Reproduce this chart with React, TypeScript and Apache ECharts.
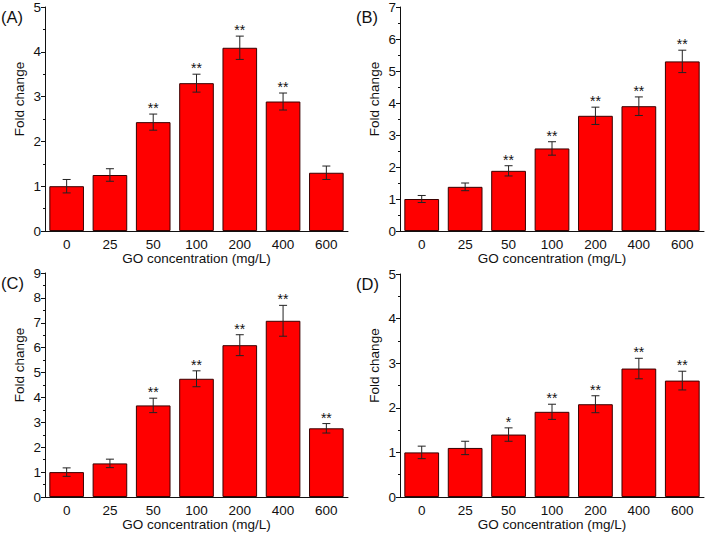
import React, { useEffect, useRef } from "react";
import * as echarts from "echarts";

const categories = ["0", "25", "50", "100", "200", "400", "600"];

const valuesA = [1.0, 1.25, 2.43, 3.3, 4.09, 2.89, 1.3];
const errorsA = [0.15, 0.14, 0.18, 0.2, 0.26, 0.19, 0.15];
const starsA = ["", "", "**", "**", "**", "**", ""];

const valuesB = [1.0, 1.38, 1.88, 2.58, 3.6, 3.9, 5.3];
const errorsB = [0.11, 0.12, 0.16, 0.21, 0.27, 0.29, 0.35];
const starsB = ["", "", "**", "**", "**", "**", "**"];

const valuesC = [1.0, 1.35, 3.68, 4.75, 6.1, 7.08, 2.76];
const errorsC = [0.17, 0.17, 0.29, 0.32, 0.42, 0.62, 0.19];
const starsC = ["", "", "**", "**", "**", "**", "**"];

const valuesD = [1.0, 1.1, 1.4, 1.91, 2.08, 2.88, 2.61];
const errorsD = [0.14, 0.15, 0.15, 0.17, 0.19, 0.23, 0.21];
const starsD = ["", "", "*", "**", "**", "**", "**"];

const yMaxes = [5, 7, 9, 5];
const panelLabels = ["(A)", "(B)", "(C)", "(D)"];
const xTitle = "GO concentration (mg/L)";
const yTitle = "Fold change";

const FONT = "'Liberation Sans', Arial, sans-serif";

export default function App() {
  const ref = useRef<HTMLDivElement>(null);
  useEffect(() => {
    if (!ref.current) return;
    const chart = echarts.init(ref.current, null, { renderer: "svg" });
    const panels = [
      { v: valuesA, e: errorsA, s: starsA },
      { v: valuesB, e: errorsB, s: starsB },
      { v: valuesC, e: errorsC, s: starsC },
      { v: valuesD, e: errorsD, s: starsD },
    ];
    const grids = [
      { left: 45, top: 7, width: 303, height: 224 },
      { left: 400, top: 7, width: 304, height: 224 },
      { left: 45, top: 273, width: 303, height: 224 },
      { left: 400, top: 274, width: 304, height: 223 },
    ];
    const xAxes: any[] = [];
    const yAxes: any[] = [];
    const series: any[] = [];
    const graphics: any[] = [];
    panels.forEach((p, i) => {
      xAxes.push({
        type: "category",
        gridIndex: i,
        data: categories,
        name: xTitle,
        nameLocation: "middle",
        nameGap: 19,
        nameTextStyle: { fontSize: 13.5, color: "#111", fontFamily: FONT },
        axisLine: { lineStyle: { color: "#111", width: 1 } },
        axisTick: { alignWithLabel: true, length: 4, lineStyle: { color: "#111" } },
        axisLabel: { fontSize: 13.5, color: "#111", fontFamily: FONT, margin: 6 },
        splitLine: { show: false },
      });
      // boundary ticks (minor)
      xAxes.push({
        type: "category",
        gridIndex: i,
        data: categories,
        position: "bottom",
        axisLine: { show: false },
        axisTick: { alignWithLabel: false, length: 2, lineStyle: { color: "#111" } },
        axisLabel: { show: false },
        splitLine: { show: false },
      });
      yAxes.push({
        type: "value",
        gridIndex: i,
        min: 0,
        max: yMaxes[i],
        interval: 1,
        name: yTitle,
        nameLocation: "middle",
        nameGap: 19,
        nameTextStyle: { fontSize: 13.5, color: "#111", fontFamily: FONT, padding: [0, 0, 0, 40] },
        axisLine: { show: true, lineStyle: { color: "#111", width: 1 } },
        axisTick: { show: true, length: 4, lineStyle: { color: "#111" } },
        minorTick: { show: true, splitNumber: 2, length: 2, lineStyle: { color: "#111" } },
        axisLabel: { fontSize: 13.5, color: "#111", fontFamily: FONT, margin: 4 },
        splitLine: { show: false },
      });
      series.push({
        type: "bar",
        xAxisIndex: i * 2,
        yAxisIndex: i,
        data: p.v,
        barWidth: "80%",
        itemStyle: { color: "#FF0000", borderColor: "#3a0000", borderWidth: 1 },
        z: 2,
      });
      series.push({
        type: "custom",
        xAxisIndex: i * 2,
        yAxisIndex: i,
        data: p.v.map((v, k) => [k, v, p.e[k]]),
        z: 5,
        renderItem: (params: any, api: any) => {
          const x = api.value(0);
          const v = api.value(1);
          const e = api.value(2);
          const top = api.coord([x, v + e]);
          const bot = api.coord([x, v - e]);
          const cw = 4;
          const st = { stroke: "#222", lineWidth: 1 };
          const star = p.s[params.dataIndex];
          const children: any[] = [
            { type: "line", shape: { x1: top[0], y1: top[1], x2: bot[0], y2: bot[1] }, style: st },
            { type: "line", shape: { x1: top[0] - cw, y1: top[1], x2: top[0] + cw, y2: top[1] }, style: st },
            { type: "line", shape: { x1: bot[0] - cw, y1: bot[1], x2: bot[0] + cw, y2: bot[1] }, style: st },
          ];
          if (star) {
            children.push({
              type: "text",
              style: {
                text: star,
                x: top[0],
                y: top[1] + 1,
                align: "center",
                verticalAlign: "bottom",
                fontSize: 14,
                fontFamily: FONT,
                fill: "#111",
              },
            });
          }
          return { type: "group", children };
        },
      });
      const g = grids[i];
      graphics.push({
        type: "text",
        left: g.left - 44,
        top: g.top + 1,
        style: { text: panelLabels[i], fontSize: 16.5, fontFamily: FONT, fill: "#111" },
      });
    });
    chart.setOption({
      animation: false,
      backgroundColor: "#fff",
      grid: grids,
      xAxis: xAxes,
      yAxis: yAxes,
      series,
      graphic: graphics,
    });
    return () => chart.dispose();
  }, []);
  return (
    <div
      ref={ref}
      style={{ position: "fixed", left: 0, top: 0, width: 708, height: 533 }}
    />
  );
}
